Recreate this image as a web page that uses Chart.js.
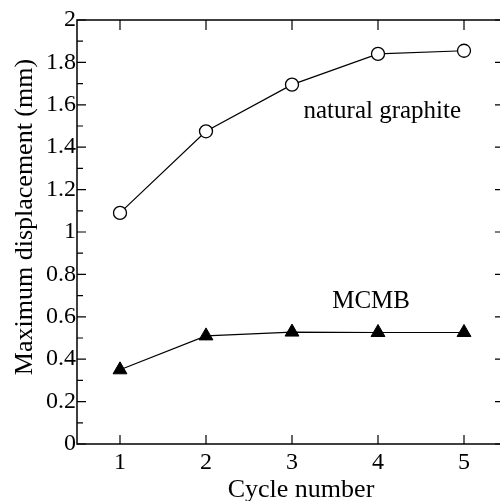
<!DOCTYPE html>
<html>
<head>
<meta charset="utf-8">
<script src="https://cdn.jsdelivr.net/npm/chart.js@4.4.0/dist/chart.umd.min.js"></script>
<style>
  html, body { margin: 0; padding: 0; background: #fff; overflow: hidden; }
  #wrap { width: 516px; height: 501px; }
</style>
</head>
<body>
<div id="wrap"><canvas id="c" width="516" height="501"></canvas></div>
<script>
// data
var cycles = [1, 2, 3, 4, 5];
var naturalGraphite = [1.09, 1.475, 1.695, 1.84, 1.855];
var mcmb = [0.35, 0.51, 0.528, 0.526, 0.526];

var labels = [
    { text: 'natural graphite', x: 4.05, y: 1.54 },
    { text: 'MCMB', x: 3.92, y: 0.64 }
];

var serif = '"Liberation Serif", "Times New Roman", serif';

function pts(xs, ys) {
    return xs.map(function (x, i) { return { x: x, y: ys[i] }; });
}

// frame, inward ticks, axis titles and text labels
var framePlugin = {
    id: 'frame',
    afterDraw: function (chart) {
        var ctx = chart.ctx;
        var a = chart.chartArea;
        var xs = chart.scales.x, ys = chart.scales.y;
        ctx.save();
        ctx.strokeStyle = '#000';
        ctx.lineWidth = 1.5;
        ctx.strokeRect(a.left, a.top, a.right - a.left, a.bottom - a.top);
        ctx.lineWidth = 1.2;
        ctx.beginPath();
        ys.ticks.forEach(function (t) {
            var py = ys.getPixelForValue(t.value);
            var major = Math.round(t.value * 10) % 2 === 0;
            ctx.moveTo(a.left, py);
            ctx.lineTo(a.left + (major ? 9 : 6), py);
            if (major) {
                ctx.moveTo(a.right, py);
                ctx.lineTo(a.right - 12, py);
            }
        });
        xs.ticks.forEach(function (t) {
            var px = xs.getPixelForValue(t.value);
            ctx.moveTo(px, a.bottom);
            ctx.lineTo(px, a.bottom - 9);
            ctx.moveTo(px, a.top);
            ctx.lineTo(px, a.top + 10);
        });
        ctx.stroke();

        ctx.fillStyle = '#000';
        ctx.font = '25px ' + serif;
        ctx.textAlign = 'center';
        ctx.textBaseline = 'alphabetic';
        labels.forEach(function (l) {
            ctx.fillText(l.text, xs.getPixelForValue(l.x), ys.getPixelForValue(l.y));
        });

        ctx.font = '26px ' + serif;
        ctx.textBaseline = 'middle';
        ctx.fillText('Cycle number', 301, 490);
        ctx.translate(25, 217);
        ctx.rotate(-Math.PI / 2);
        ctx.fillText('Maximum displacement (mm)', 0, 0);
        ctx.restore();
    }
};

new Chart(document.getElementById('c').getContext('2d'), {
    type: 'line',
    data: {
        datasets: [{
            label: 'natural graphite',
            data: pts(cycles, naturalGraphite),
            borderColor: '#000',
            borderWidth: 1.2,
            pointStyle: 'circle',
            pointRadius: 6.5,
            pointBackgroundColor: '#fff',
            pointBorderColor: '#000',
            pointBorderWidth: 1.3
        }, {
            label: 'MCMB',
            data: pts(cycles, mcmb),
            borderColor: '#000',
            borderWidth: 1.2,
            pointStyle: 'triangle',
            pointRadius: 8,
            pointBackgroundColor: '#000',
            pointBorderColor: '#000',
            pointBorderWidth: 1
        }]
    },
    options: {
        responsive: false,
        animation: false,
        layout: { padding: { left: 0, top: 20, right: 4, bottom: 0 } },
        plugins: { legend: { display: false }, tooltip: { enabled: false } },
        scales: {
            x: {
                type: 'linear',
                min: 0.5,
                max: 5.5,
                grid: { display: false, drawTicks: false },
                border: { display: false },
                afterBuildTicks: function (s) {
                    s.ticks = cycles.map(function (v) { return { value: v }; });
                },
                afterFit: function (s) { s.height = 57; },
                ticks: {
                    padding: 4,
                    color: '#000',
                    font: { family: serif, size: 24 }
                }
            },
            y: {
                min: 0,
                max: 2,
                grid: { display: false, drawTicks: false },
                border: { display: false },
                afterFit: function (s) { s.width = 77; },
                ticks: {
                    stepSize: 0.1,
                    autoSkip: false,
                    padding: 1,
                    color: '#000',
                    font: { family: serif, size: 24 },
                    callback: function (v) {
                        return Math.round(v * 10) % 2 === 0 ? String(+v.toFixed(1)) : '';
                    }
                }
            }
        }
    },
    plugins: [framePlugin]
});
</script>
</body>
</html>
